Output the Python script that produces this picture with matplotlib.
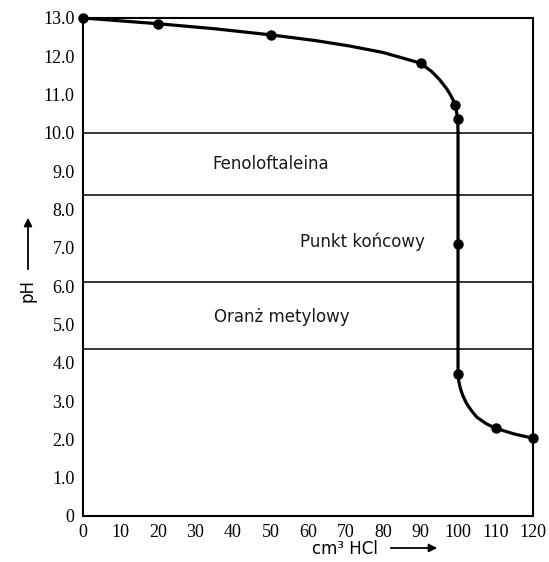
import numpy as np
import matplotlib.pyplot as plt

# ---- DATA ----
# measured points (markers)
vol_pts = [0, 20, 50, 90, 99.3, 99.9, 100, 100, 110, 120]
ph_pts = [13.0, 12.85, 12.56, 11.82, 10.74, 10.37, 7.1, 3.7, 2.29, 2.03]

# curve
vol_curve = [0, 20, 35, 50, 62, 71, 80, 85.4, 90, 93, 95, 97, 98, 99.3, 99.9,
             100, 100, 100, 100.2, 100.6, 101.2, 102.2, 103.5, 105, 107.5, 110,
             115, 120]
ph_curve = [13.0, 12.85, 12.72, 12.56, 12.41, 12.27, 12.10, 11.95, 11.82, 11.6,
            11.4, 11.15, 10.99, 10.74, 10.37, 10.0, 7.1, 3.7, 3.52, 3.34, 3.16,
            2.95, 2.76, 2.58, 2.41, 2.29, 2.14, 2.03]

# indicator range boundaries
range_lines = [10.0, 8.38, 6.12, 4.36]
labels = ["Fenoloftaleina", "Punkt końcowy", "Oranż metylowy"]
label_pos = [(50, 9.2), (74.5, 7.15), (53, 5.2)]

x_ticks = list(range(0, 121, 10))
y_ticks = list(range(0, 14))
y_ticklabels = ["0"] + [f"{v:.1f}" for v in y_ticks[1:]]

# ---- PLOT ----
fig = plt.figure(figsize=(5.49, 5.62), dpi=100)
ax = fig.add_axes([0.1512, 0.0819, 0.8197, 0.8861])

for yv in range_lines:
    ax.axhline(yv, color="black", lw=1.1, zorder=1)

ax.plot(vol_curve, ph_curve, color="black", lw=2.3, zorder=3,
        solid_joinstyle="round", solid_capstyle="round")
ax.plot(vol_pts, ph_pts, "o", color="black", ms=6.5, zorder=4, clip_on=False)

for txt, (xx, yy) in zip(labels, label_pos):
    ax.text(xx, yy, txt, ha="center", va="center", fontsize=12,
            family="DejaVu Sans", color="#1a1a1a")

ax.set_xlim(0, 120)
ax.set_ylim(0, 13)
ax.set_xticks(x_ticks)
ax.set_xticklabels([str(v) for v in x_ticks], family="Liberation Serif", fontsize=13)
ax.set_yticks(y_ticks)
ax.set_yticklabels(y_ticklabels, family="Liberation Serif", fontsize=13)
ax.tick_params(length=0, pad=6)
for sp in ax.spines.values():
    sp.set_linewidth(1.5)

# axis labels with arrows
fig.text(345 / 549, 1 - 549 / 562, "cm³ HCl", ha="center", va="center",
         fontsize=12, family="DejaVu Sans")
ax.annotate("", xy=(440 / 549, 1 - 548 / 562), xytext=(388 / 549, 1 - 548 / 562),
            xycoords="figure fraction", textcoords="figure fraction",
            arrowprops=dict(arrowstyle="-|>", color="black", lw=1.3,
                            mutation_scale=12))
fig.text(28 / 549, 1 - 290 / 562, "pH", ha="center", va="center", rotation=90,
         fontsize=12, family="DejaVu Sans")
ax.annotate("", xy=(28 / 549, 1 - 215 / 562), xytext=(28 / 549, 1 - 272 / 562),
            xycoords="figure fraction", textcoords="figure fraction",
            arrowprops=dict(arrowstyle="-|>", color="black", lw=1.3,
                            mutation_scale=12))

fig.savefig("out.png", dpi=100)
